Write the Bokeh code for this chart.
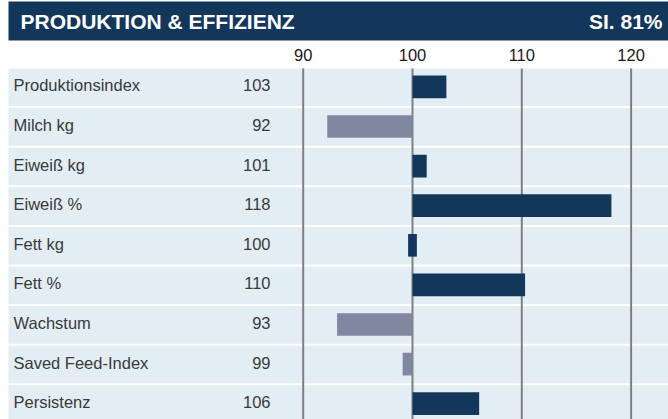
from bokeh.plotting import figure
from bokeh.models import Range1d, ColumnDataSource
from bokeh.core.properties import value
from bokeh.embed import file_html
from bokeh.resources import INLINE

# ---- data ----
title_left = "PRODUKTION & EFFIZIENZ"
title_right = "SI. 81%"
categories = ["Produktionsindex", "Milch kg", "Eiweiß kg", "Eiweiß %", "Fett kg",
              "Fett %", "Wachstum", "Saved Feed-Index", "Persistenz"]
value_labels = ["103", "92", "101", "118", "100", "110", "93", "99", "106"]
values = [103.1, 92.2, 101.3, 118.2, 100.0, 110.3, 93.1, 99.1, 106.1]
ticks = [90, 100, 110, 120]
base = 100

# ---- styling / geometry ----
W, H = 668, 419
LEFT_PX = 8
ROW_PX = 39.6
ROWS_TOP_PX = 68
px_per_unit = 10.93
x0 = base - 412 / px_per_unit
x1 = x0 + W / px_per_unit
xl = x0 + LEFT_PX / px_per_unit
top_units = -ROWS_TOP_PX / ROW_PX
bottom_units = (H - ROWS_TOP_PX) / ROW_PX

def ypx(py):
    return top_units + py / ROW_PX

NAVY = "#13365b"
GREY = "#8088a1"
BAND = "#e2edf4"
FONT = value("Liberation Sans")

p = figure(width=W, height=H, output_backend="svg", toolbar_location=None,
           x_range=Range1d(x0, x1), y_range=Range1d(bottom_units, top_units),
           min_border=0)
p.axis.visible = False
p.grid.visible = False
p.outline_line_color = None
p.background_fill_color = "white"
p.border_fill_color = "white"

n = len(categories)
rows = list(range(n))
band_h = (ROW_PX - 2) / ROW_PX
bar_c = 18.4 / ROW_PX
txt_c = bar_c - 1.5 / ROW_PX

# row bands
p.quad(left=[xl] * n, right=[x1] * n,
       top=[i for i in rows], bottom=[i + band_h for i in rows],
       fill_color=BAND, line_color=None)

# header band
p.quad(left=[xl], right=[x1], top=[ypx(1)], bottom=[ypx(40)],
       fill_color=NAVY, line_color=None)
p.text(x=[x0], y=[ypx(21)], text=[title_left], x_offset=20,
       text_font=FONT, text_font_style="bold", text_font_size="21px",
       text_color="white", text_align="left", text_baseline="middle")
p.text(x=[x1], y=[ypx(21)], text=[title_right], x_offset=-6,
       text_font=FONT, text_font_style="bold", text_font_size="21px",
       text_color="white", text_align="right", text_baseline="middle")

# tick labels
p.text(x=ticks, y=[ypx(54)] * len(ticks), text=[str(t) for t in ticks],
       text_font=FONT, text_font_size="16.5px", text_color="#1a1a1a",
       text_align="center", text_baseline="middle")

# grid lines
p.segment(x0=ticks, y0=[0] * len(ticks), x1=ticks, y1=[n] * len(ticks),
          line_color="#808080", line_width=2)

# bars
lefts, rights, colors = [], [], []
for v in values:
    if v == base:
        lefts.append(base - 0.4)
        rights.append(base + 0.4)
    else:
        lefts.append(min(base, v))
        rights.append(max(base, v))
    colors.append(NAVY if v >= base else GREY)
src = ColumnDataSource(dict(y=[i + bar_c for i in rows], ty=[i + txt_c for i in rows],
                            left=lefts, right=rights,
                            color=colors, cat=categories,
                            val=value_labels, xs=[x0] * n))
p.hbar(y="y", left="left", right="right", height=22.7 / ROW_PX, fill_color="color",
       line_color=None, source=src)

# labels
p.text(x="xs", y="ty", text="cat", x_offset=13, source=src,
       text_font=FONT, text_font_size="16.5px", text_color="#3a3a3a",
       text_align="left", text_baseline="middle")
p.text(x="xs", y="ty", text="val", x_offset=270, source=src,
       text_font=FONT, text_font_size="16.5px", text_color="#3a3a3a",
       text_align="right", text_baseline="middle")

open("out.html", "w").write(file_html(p, INLINE))
